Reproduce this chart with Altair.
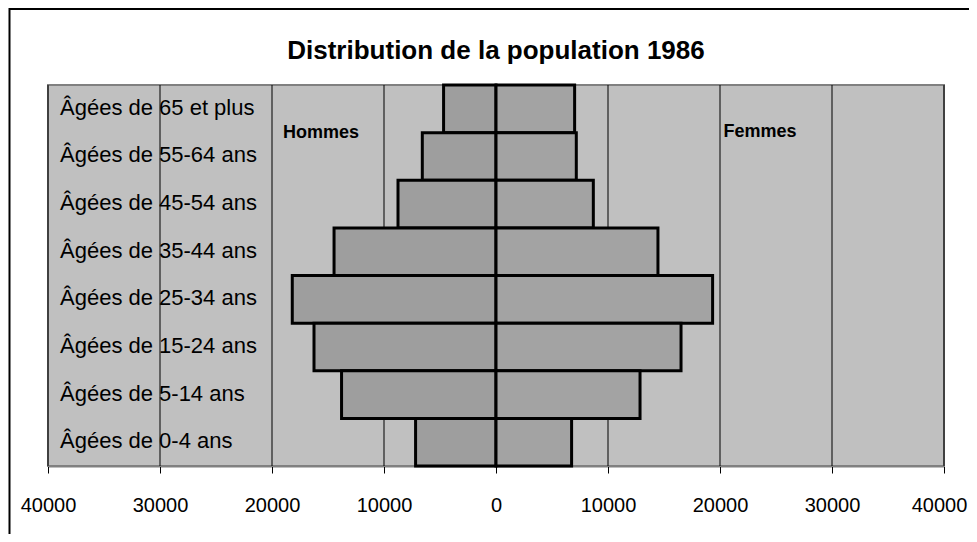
import altair as alt
import pandas as pd

categories = [
    "Âgées de 65 et plus",
    "Âgées de 55-64 ans",
    "Âgées de 45-54 ans",
    "Âgées de 35-44 ans",
    "Âgées de 25-34 ans",
    "Âgées de 15-24 ans",
    "Âgées de 5-14 ans",
    "Âgées de 0-4 ans",
]
hommes = [4680, 6580, 8750, 14460, 18190, 16250, 13790, 7180]
femmes = [7020, 7170, 8690, 14460, 19340, 16520, 12860, 6750]
x_ticks = [-40000, -30000, -20000, -10000, 0, 10000, 20000, 30000, 40000]

title_text = "Distribution de la population 1986"

rows = []
for c, h, f in zip(categories, hommes, femmes):
    rows.append({"cat": c, "sexe": "Hommes", "start": -h, "end": 0})
    rows.append({"cat": c, "sexe": "Femmes", "start": 0, "end": f})
df = pd.DataFrame(rows)
lab = pd.DataFrame({"cat": categories})

W, H = 896, 381

xscale = alt.Scale(domain=[-40000, 40000], nice=False, zero=False)
yscale = alt.Scale(domain=categories, paddingInner=0, paddingOuter=0)
xaxis = alt.Axis(values=x_ticks, title=None, grid=False,
                 labelExpr="format(abs(datum.value), 'd')",
                 labelFont="Liberation Sans", labelFontSize=20,
                 labelColor="#000000", labelPadding=22,
                 labelOffset={"condition": {"test": "datum.value == 40000", "value": -5},
                              "value": 0},
                 tickColor="#000000", tickSize=7, tickWidth=1,
                 domainColor="#000000", domainWidth=1.5,
                 labelFlush=False)

frame = alt.Chart(pd.DataFrame({"a": [0]})).mark_rect(
    fill=None, stroke="#000000", strokeWidth=2
).encode(
    x=alt.value(-38.5), x2=alt.value(W + 60), y=alt.value(-76), y2=alt.value(H + 90)
)

bg = alt.Chart(pd.DataFrame({"a": [0]})).mark_rect(
    fill="#C0C0C0", stroke="#808080", strokeWidth=2
).encode(
    x=alt.value(0), x2=alt.value(W), y=alt.value(0), y2=alt.value(H)
)

grid = alt.Chart(pd.DataFrame({"t": x_ticks})).mark_rule(
    color="#000000", strokeWidth=1
).encode(
    x=alt.X("t:Q", scale=xscale, axis=xaxis)
)

bars = alt.Chart(df).mark_bar(
    stroke="#000000", strokeWidth=3
).encode(
    x=alt.X("start:Q", scale=xscale, axis=xaxis),
    x2="end:Q",
    y=alt.Y("cat:N", scale=yscale, axis=None, sort=categories),
    color=alt.Color("sexe:N",
                    scale=alt.Scale(domain=["Hommes", "Femmes"],
                                    range=["#9E9E9E", "#A3A3A3"]),
                    legend=None),
)

labels = alt.Chart(lab).mark_text(
    font="Liberation Sans", fontSize=22, align="left", baseline="middle",
    color="#000000", dy=-1
).encode(
    x=alt.value(12),
    y=alt.Y("cat:N", scale=yscale, axis=None, sort=categories),
    text="cat:N",
)

ann = pd.DataFrame({"t": ["Hommes", "Femmes"], "px": [273, 712], "py": [48, 47]})
annot = alt.Chart(ann).mark_text(
    font="Liberation Sans", fontWeight="bold", fontSize=18,
    align="center", baseline="middle", color="#000000"
).encode(
    x=alt.X("px:Q", scale=None), y=alt.Y("py:Q", scale=None), text="t:N"
)

ttl = alt.Chart(pd.DataFrame({"t": [title_text]})).mark_text(
    font="Liberation Sans", fontWeight="bold", fontSize=26,
    align="center", baseline="middle", color="#000000"
).encode(
    x=alt.value(W / 2), y=alt.value(-34), text="t:N"
)

chart = alt.layer(frame, bg, grid, bars, labels, annot, ttl).properties(
    width=W, height=H,
    autosize=alt.AutoSizeParams(type="none"),
    padding={"left": 40, "top": 77, "right": 25, "bottom": 68},
    background="#FFFFFF",
).configure_view(stroke=None)

chart.save("out.html", embed_options={"renderer": "svg", "actions": False})
